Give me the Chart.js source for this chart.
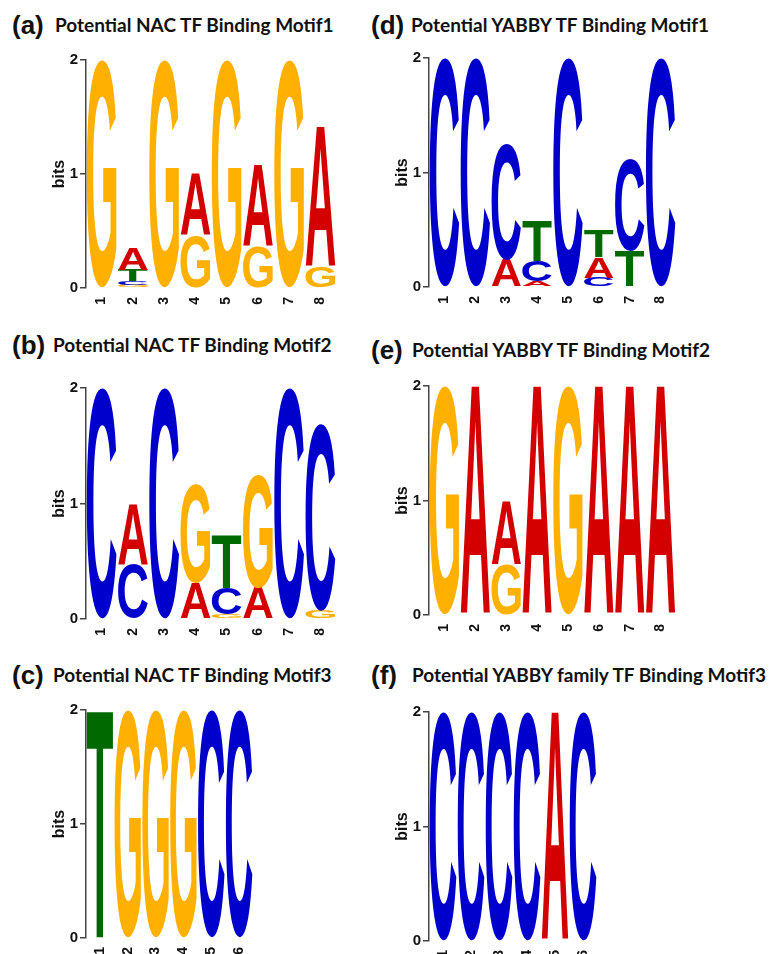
<!DOCTYPE html>
<html>
<head>
<meta charset="utf-8">
<script src="https://cdn.jsdelivr.net/npm/chart.js@4.4.1/dist/chart.umd.min.js"></script>
<style>
  html, body { margin: 0; padding: 0; background: #fff; overflow: hidden; }
  #page { position: relative; width: 772px; height: 954px; overflow: hidden; }
  .tag { position: absolute; font-family: "Liberation Sans", Arial, sans-serif; font-weight: bold; font-size: 26px; line-height: 30px; color: #111; white-space: nowrap; }
  .ttl { position: absolute; font-family: Lato, "Open Sans", sans-serif; font-weight: bold; font-size: 19px; line-height: 22px; color: #111; white-space: nowrap; }
  canvas { position: absolute; }
</style>
</head>
<body>
<div id="page"></div>
<script>
// Positions along each motif
const positions8 = ['1', '2', '3', '4', '5', '6', '7', '8'];
const positions6 = ['1', '2', '3', '4', '5', '6'];

// Letters at each position, bottom to top, with their heights in bits
const aLetters = [['G'], ['G', 'C', 'T', 'A'], ['G'], ['G', 'A'], ['G'], ['G', 'A'], ['G'], ['G', 'A']];
const aBits = [[2.0], [0.03, 0.03, 0.10, 0.19], [2.0], [0.46, 0.54], [2.0], [0.36, 0.71], [2.0], [0.19, 1.22]];

const bLetters = [['C'], ['C', 'A'], ['C'], ['A', 'G'], ['G', 'C', 'T'], ['A', 'G'], ['C'], ['G', 'C']];
const bBits = [[2.0], [0.47, 0.52], [2.0], [0.31, 0.85], [0.04, 0.23, 0.46], [0.27, 0.98], [2.0], [0.07, 1.62]];

const cLetters = [['T'], ['G'], ['G'], ['G'], ['C'], ['C']];
const cBits = [[2.0], [2.0], [2.0], [2.0], [2.0], [2.0]];

const dLetters = [['C'], ['C'], ['A', 'C'], ['A', 'C', 'T'], ['C'], ['C', 'A', 'T'], ['T', 'C'], ['C']];
const dBits = [[2.0], [2.0], [0.24, 1.01], [0.05, 0.18, 0.35], [2.0], [0.08, 0.18, 0.24], [0.31, 0.80], [2.0]];

const eLetters = [['G'], ['A'], ['G', 'A'], ['A'], ['G'], ['A'], ['A'], ['A']];
const eBits = [[2.0], [2.0], [0.44, 0.55], [2.0], [2.0], [2.0], [2.0], [2.0]];

const fLetters = [['C'], ['C'], ['C'], ['C'], ['A'], ['C']];
const fBits = [[2.0], [2.0], [2.0], [2.0], [2.0], [2.0]];

const baseColors = { A: '#d40000', C: '#0000cc', G: '#ffb000', T: '#006a00' };

// panel layout: tag, title, and where the plot area should sit on the page
const panels = [
    { tag: '(a)', title: 'Potential NAC TF Binding Motif1', letters: aLetters, bits: aBits, labels: positions8,
      tagX: 12, titleX: 55, titleY: 25, colX: 0, L: 86, T: 60, R: 336, B: 288 },
    { tag: '(b)', title: 'Potential NAC TF Binding Motif2', letters: bLetters, bits: bBits, labels: positions8,
      tagX: 12, titleX: 53, titleY: 345, colX: 0, L: 86, T: 388, R: 336, B: 619 },
    { tag: '(c)', title: 'Potential NAC TF Binding Motif3', letters: cLetters, bits: cBits, labels: positions6,
      tagX: 12, titleX: 53, titleY: 675, colX: 0, L: 86, T: 710, R: 253, B: 938 },
    { tag: '(d)', title: 'Potential YABBY TF Binding Motif1', letters: dLetters, bits: dBits, labels: positions8,
      tagX: 371, titleX: 411, titleY: 25, colX: 386, L: 429, T: 58, R: 676, B: 287 },
    { tag: '(e)', title: 'Potential YABBY TF Binding Motif2', letters: eLetters, bits: eBits, labels: positions8,
      tagX: 371, titleX: 412, titleY: 350, colX: 386, L: 429, T: 386, R: 676, B: 615 },
    { tag: '(f)', title: 'Potential YABBY family TF Binding Motif3', letters: fLetters, bits: fBits, labels: positions6,
      tagX: 371, titleX: 412, titleY: 675, colX: 386, L: 429, T: 712, R: 597, B: 941 }
];

Chart.defaults.font.family = '"Liberation Sans", Arial, sans-serif';
Chart.defaults.font.size = 15;
Chart.defaults.font.weight = 'bold';
Chart.defaults.color = '#111';

// stretch a letter glyph to fill the bar rectangle
function drawGlyph(ctx, ch, x, y, w, h) {
    if (h < 0.5 || w < 0.5) return;
    ctx.save();
    ctx.font = 'bold 200px "Liberation Sans", Arial, sans-serif';
    const m = ctx.measureText(ch);
    const gw = m.actualBoundingBoxLeft + m.actualBoundingBoxRight;
    const gh = m.actualBoundingBoxAscent + m.actualBoundingBoxDescent;
    ctx.translate(x, y);
    ctx.scale(w / gw, h / gh);
    ctx.fillStyle = baseColors[ch];
    ctx.textAlign = 'left';
    ctx.textBaseline = 'alphabetic';
    ctx.fillText(ch, m.actualBoundingBoxLeft, m.actualBoundingBoxAscent);
    ctx.restore();
}

const logoLetters = {
    id: 'logoLetters',
    afterDatasetsDraw(chart) {
        const ctx = chart.ctx;
        chart.data.datasets.forEach(function(ds, di) {
            const meta = chart.getDatasetMeta(di);
            meta.data.forEach(function(bar, i) {
                const ch = ds.letters[i];
                if (!ch || !ds.data[i]) return;
                const p = bar.getProps(['x', 'y', 'base', 'width'], true);
                drawGlyph(ctx, ch, p.x - p.width / 2, p.y, p.width, p.base - p.y);
            });
        });
    }
};

const page = document.getElementById('page');
const Y_W = 36;
const X_H = 20;

panels.forEach(function(pn) {
    const tag = document.createElement('div');
    tag.className = 'tag';
    tag.textContent = pn.tag;
    tag.style.left = pn.tagX + 'px';
    tag.style.top = (pn.titleY - 15) + 'px';
    page.appendChild(tag);

    const ttl = document.createElement('div');
    ttl.className = 'ttl';
    ttl.textContent = pn.title;
    ttl.style.left = pn.titleX + 'px';
    ttl.style.top = (pn.titleY - 11) + 'px';
    page.appendChild(ttl);

    const cx = pn.colX, cy = pn.T - 20, cw = 386, chh = pn.B - pn.T + 20 + X_H + 4;
    const canvas = document.createElement('canvas');
    canvas.width = cw;
    canvas.height = chh;
    canvas.style.left = cx + 'px';
    canvas.style.top = cy + 'px';
    canvas.style.width = cw + 'px';
    canvas.style.height = chh + 'px';
    page.appendChild(canvas);

    // one dataset per stacking layer
    const layers = Math.max.apply(null, pn.bits.map(function(b) { return b.length; }));
    const datasets = [];
    for (let k = 0; k < layers; k++) {
        datasets.push({
            data: pn.bits.map(function(b) { return b[k] || 0; }),
            letters: pn.letters.map(function(l) { return l[k] || null; }),
            backgroundColor: 'rgba(0, 0, 0, 0)',
            borderWidth: 0,
            barPercentage: 0.95,
            categoryPercentage: 1.0
        });
    }

    new Chart(canvas.getContext('2d'), {
        type: 'bar',
        data: { labels: pn.labels, datasets: datasets },
        options: {
            responsive: false,
            animation: false,
            layout: {
                padding: {
                    left: pn.L - cx - Y_W,
                    right: cx + cw - pn.R,
                    top: pn.T - cy,
                    bottom: cy + chh - pn.B - X_H
                }
            },
            plugins: {
                legend: { display: false },
                tooltip: { enabled: false }
            },
            scales: {
                x: {
                    stacked: true,
                    grid: { display: false },
                    border: { display: false },
                    ticks: {
                        minRotation: 90,
                        maxRotation: 90,
                        padding: 1,
                        color: '#111',
                        font: { size: 14, weight: 'bold' }
                    },
                    afterFit: function(scale) { scale.height = X_H; }
                },
                y: {
                    stacked: true,
                    min: 0,
                    max: 2,
                    ticks: {
                        stepSize: 1,
                        padding: 2,
                        color: '#111',
                        font: { size: 15, weight: 'bold' }
                    },
                    grid: {
                        drawOnChartArea: false,
                        drawTicks: true,
                        tickLength: 6,
                        color: '#444',
                        lineWidth: 1.5
                    },
                    border: { display: true, color: '#444', width: 1.5 },
                    title: {
                        display: true,
                        text: 'bits',
                        color: '#111',
                        padding: 0,
                        font: { size: 16, weight: 'bold' }
                    },
                    afterFit: function(scale) { scale.width = Y_W; }
                }
            }
        },
        plugins: [logoLetters]
    });
});
</script>
</body>
</html>
